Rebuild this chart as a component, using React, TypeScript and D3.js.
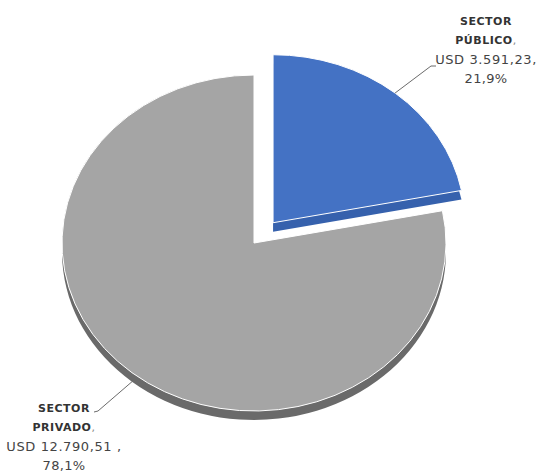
import React from "react";
import * as d3 from "d3";

const categories = ["SECTOR PÚBLICO", "SECTOR PRIVADO"];
const nameLine1 = ["SECTOR", "SECTOR"];
const nameLine2 = ["PÚBLICO", "PRIVADO"];
const values = [3591.23, 12790.51];
const valueSuffix = [",", " ,"];
const faceColors = ["#4472C4", "#A5A5A5"];
const sideColors = ["#3661AD", "#6A6A6A"];
const explode = [30, 0];

const W = 536;
const H = 474;
const cx = 254;
const cy = 243;
const rx = 192;
const ry = 168;
const k = ry / rx;
const depth = 9;

const locale = d3.formatLocale({
  decimal: ",",
  thousands: ".",
  grouping: [3],
  currency: ["USD ", ""],
});
const fmtMoney = locale.format(",.2f");
const fmtPct = locale.format(".1%");

// label layout: [anchor x, first baseline y, leader end points]
const labelLayout = [
  { x: 486, y: 25, end: [431, 66], tick: [436, 66] },
  { x: 64, y: 412, end: [98, 411], tick: [94, 412] },
];
const lineGap = 19.3;

export default function App() {
  const total = d3.sum(values);
  const pie = d3
    .pie<number>()
    .sort(null)
    .startAngle(0)
    .endAngle(2 * Math.PI)(values);
  const arc = d3.arc<d3.PieArcDatum<number>>().innerRadius(0).outerRadius(rx);

  const slices = pie.map((d, i) => {
    const mid = (d.startAngle + d.endAngle) / 2;
    const ox = explode[i] * Math.sin(mid);
    const oy = -explode[i] * Math.cos(mid) * k;
    const sx = cx + ox + rx * Math.sin(mid);
    const syFace = cy + oy - ry * Math.cos(mid);
    const sy = Math.cos(mid) < 0 ? syFace + depth : syFace;
    return { d, i, mid, ox, oy, sx, sy };
  });

  const fontNum = "'DejaVu Sans', sans-serif";

  return (
    <svg width={W} height={H} style={{ position: "absolute", left: 0, top: 0 }}>
      <rect width={W} height={H} fill="#ffffff" />
      {/* draw gray (index 1) first, then exploded blue */}
      {[1, 0].map((i) => {
        const s = slices[i];
        return (
          <g key={i} transform={`translate(${cx + s.ox},${cy + s.oy}) scale(1,${k})`}>
            <path
              d={arc(s.d) as string}
              transform={`translate(0,${depth / k})`}
              fill={sideColors[i]}
            />
            <path
              d={arc(s.d) as string}
              fill={faceColors[i]}
              stroke="#ffffff"
              strokeWidth={1}
              vectorEffect="non-scaling-stroke"
            />
          </g>
        );
      })}
      {slices.map((s) => {
        const L = labelLayout[s.i];
        return (
          <g key={"lbl" + s.i}>
            <polyline
              points={`${s.sx},${s.sy} ${L.end[0]},${L.end[1]} ${L.tick[0]},${L.tick[1]}`}
              fill="none"
              stroke="#6b6b6b"
              strokeWidth={1}
            />
            <text
              x={L.x}
              y={L.y}
              textAnchor="middle"
              fontFamily={fontNum}
              fontWeight="bold"
              fontSize={11}
              letterSpacing={0.5}
              fill="#333333"
            >
              {nameLine1[s.i]}
            </text>
            <text
              x={L.x}
              y={L.y + lineGap}
              textAnchor="middle"
              fontFamily={fontNum}
              fontSize={11}
              letterSpacing={0.5}
              fill="#333333"
            >
              <tspan fontWeight="bold">{nameLine2[s.i]}</tspan>
              <tspan fill="#888888">,</tspan>
            </text>
            <text
              x={L.x}
              y={L.y + lineGap * 2}
              textAnchor="middle"
              fontFamily={fontNum}
              fontSize={13}
              letterSpacing={0.6}
              fill="#444444"
            >
              {"USD " + fmtMoney(values[s.i]) + valueSuffix[s.i]}
            </text>
            <text
              x={L.x}
              y={L.y + lineGap * 3}
              textAnchor="middle"
              fontFamily={fontNum}
              fontSize={13}
              letterSpacing={0.3}
              fill="#444444"
            >
              {fmtPct(values[s.i] / total)}
            </text>
          </g>
        );
      })}
    </svg>
  );
}
